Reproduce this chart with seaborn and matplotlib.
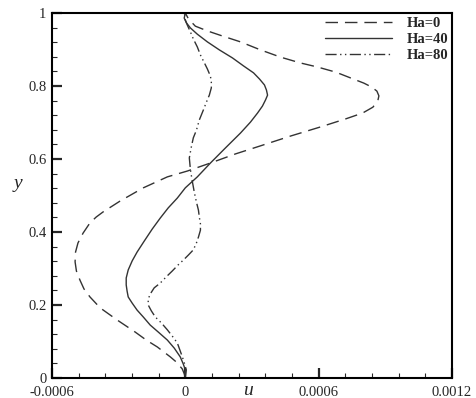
import numpy as np
import pandas as pd
import matplotlib
matplotlib.use("Agg")
import matplotlib.pyplot as plt
import seaborn as sns

# Perfiles de velocidad u(y) (u en unidades de 1e-4)
y_ha0 = [0.0, 0.011, 0.025, 0.044, 0.058, 0.085, 0.104, 0.126, 0.159, 0.192, 0.222, 0.244,
         0.268, 0.293, 0.318, 0.345, 0.370, 0.397, 0.425, 0.441, 0.455, 0.485, 0.521, 0.551,
         0.567, 0.589, 0.614, 0.636, 0.663, 0.688, 0.710, 0.726, 0.742, 0.759, 0.773, 0.786,
         0.797, 0.808, 0.822, 0.838, 0.852, 0.863, 0.879, 0.899, 0.921, 0.937, 0.951, 0.964,
         0.984, 1.0]
u_ha0 = [0.0, -0.045, -0.14, -0.41, -0.68, -1.26, -1.76, -2.26, -3.07, -3.83, -4.29, -4.56,
         -4.74, -4.90, -4.96, -4.94, -4.83, -4.60, -4.29, -4.01, -3.70, -2.93, -1.89, -0.81,
         0.09, 1.13, 2.26, 3.38, 4.74, 6.09, 7.22, 7.98, 8.44, 8.66, 8.71, 8.62,
         8.39, 8.03, 7.44, 6.77, 5.95, 5.19, 4.29, 3.38, 2.48, 1.67, 0.99, 0.45,
         0.14, 0.0]

y_ha40 = [0.0, 0.022, 0.038, 0.058, 0.082, 0.104, 0.126, 0.145, 0.167, 0.186, 0.205, 0.222,
          0.238, 0.255, 0.274, 0.296, 0.321, 0.345, 0.375, 0.408, 0.438, 0.466, 0.493, 0.521,
          0.551, 0.589, 0.630, 0.671, 0.701, 0.726, 0.745, 0.762, 0.775, 0.789, 0.803, 0.819,
          0.836, 0.855, 0.877, 0.899, 0.921, 0.942, 0.959, 0.973, 0.986, 1.0]
u_ha40 = [0.0, 0.0, -0.09, -0.23, -0.50, -0.81, -1.22, -1.58, -1.89, -2.17, -2.39, -2.57,
          -2.62, -2.66, -2.66, -2.57, -2.39, -2.17, -1.85, -1.49, -1.13, -0.77, -0.36, 0.0,
          0.54, 1.13, 1.80, 2.48, 2.93, 3.25, 3.47, 3.61, 3.70, 3.65, 3.56, 3.34,
          3.07, 2.62, 2.12, 1.53, 0.99, 0.54, 0.23, 0.05, -0.05, 0.0]

y_ha80 = [0.0, 0.022, 0.041, 0.058, 0.096, 0.115, 0.132, 0.151, 0.167, 0.184, 0.200, 0.216,
          0.230, 0.247, 0.260, 0.277, 0.293, 0.310, 0.323, 0.337, 0.351, 0.370, 0.386, 0.405,
          0.422, 0.441, 0.460, 0.482, 0.507, 0.537, 0.570, 0.603, 0.633, 0.658, 0.679, 0.707,
          0.734, 0.756, 0.775, 0.795, 0.811, 0.827, 0.847, 0.863, 0.885, 0.907, 0.929, 0.948,
          0.967, 0.981, 1.0]
u_ha80 = [0.0, 0.045, -0.045, -0.135, -0.36, -0.59, -0.81, -1.08, -1.35, -1.53, -1.67, -1.67,
          -1.58, -1.40, -1.13, -0.86, -0.59, -0.32, -0.09, 0.14, 0.36, 0.50, 0.59, 0.68,
          0.68, 0.63, 0.59, 0.50, 0.41, 0.32, 0.23, 0.18, 0.27, 0.36, 0.50, 0.63,
          0.81, 0.95, 1.08, 1.17, 1.17, 1.13, 0.99, 0.86, 0.68, 0.54, 0.36, 0.23,
          0.09, 0.0, -0.045]

labels = ["Ha=0", "Ha=40", "Ha=80"]
x_ticks = [-0.0006, 0, 0.0006, 0.0012]
x_tick_labels = ["-0.0006", "0", "0.0006", "0.0012"]
y_ticks = [0, 0.2, 0.4, 0.6, 0.8, 1]
y_tick_labels = ["0", "0.2", "0.4", "0.6", "0.8", "1"]

sns.set_style("white")
plt.rcParams["font.family"] = ["Liberation Serif", "DejaVu Serif"]

fig, ax = plt.subplots(figsize=(4.76, 3.98), dpi=100)
fig.subplots_adjust(left=0.1092, right=0.9496, top=0.9673, bottom=0.0503)

color = "#333333"
estilos = [(0, (9, 5)), "-", (0, (8, 2.5, 1, 2.5, 1, 2.5))]
series = [(u_ha0, y_ha0), (u_ha40, y_ha40), (u_ha80, y_ha80)]
for (u, y), ls, lab in zip(series, estilos, labels):
    sns.lineplot(x=np.array(u) * 1e-4, y=y, sort=False, estimator=None, ax=ax,
                 color=color, lw=1.0, linestyle=ls, label=lab)

ax.set_xlim(-0.0006, 0.0012)
ax.set_ylim(0, 1)
ax.set_xticks(x_ticks)
ax.set_xticklabels(x_tick_labels)
ax.set_yticks(y_ticks)
ax.set_yticklabels(y_tick_labels)
ax.set_xticks(np.arange(-0.0006, 0.00121, 0.00012), minor=True)
ax.set_yticks(np.arange(0, 1.001, 0.04), minor=True)
ax.tick_params(which="major", direction="in", length=7, width=1.6, labelsize=10.5,
               bottom=True, left=True, top=False, right=False, pad=4)
ax.tick_params(axis="x", which="major", pad=5.5)
ax.tick_params(which="minor", direction="in", length=3.5, width=0.8,
               bottom=True, left=True, top=False, right=False)
for s in ax.spines.values():
    s.set_linewidth(1.5)
    s.set_color("black")

ax.set_xlabel("u", fontsize=14, fontstyle="italic", va="center")
ax.xaxis.set_label_coords(0.49, -0.033)
ax.set_ylabel("y", fontsize=14, fontstyle="italic", rotation=0, va="center")
ax.yaxis.set_label_coords(-0.085, 0.534)

leg = ax.legend(loc="upper right", frameon=False, handlelength=4.6, handletextpad=1.0,
                labelspacing=0.2, borderpad=0.15, borderaxespad=0.1,
                prop={"weight": "bold", "size": 10.5})

fig.savefig("out.png", dpi=100)
